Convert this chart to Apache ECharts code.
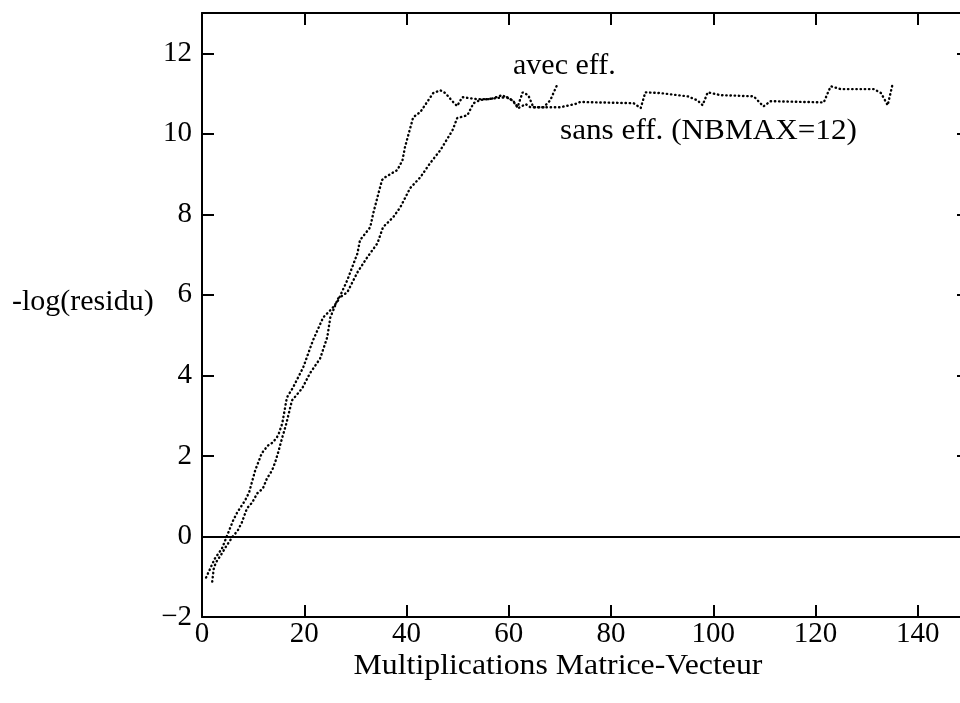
<!DOCTYPE html>
<html>
<head>
<meta charset="utf-8">
<script src="https://cdn.jsdelivr.net/npm/echarts@6/dist/echarts.min.js"></script>
<style>
html,body{margin:0;padding:0;background:#fff;}
#chart{width:960px;height:703px;}
</style>
</head>
<body>
<div id="chart"></div>
<script>
// ---- data ----
var xTicks = [0, 20, 40, 60, 80, 100, 120, 140];
var yTicks = [-2, 0, 2, 4, 6, 8, 10, 12];
var xTitle = 'Multiplications Matrice-Vecteur';
var yTitle = '-log(residu)';
var labelAvec = 'avec eff.';
var labelSans = 'sans eff. (NBMAX=12)';

var avecX = [0.8, 2.5, 3.9, 4.9, 6.1, 6.9, 8.4, 9.2, 10.4, 11.7, 12.9, 13.9, 14.9, 15.7, 16.6, 17.8, 19.8, 21.7, 23.7, 25.5, 26.6, 28.4, 30.4, 30.9, 32.9, 33.5, 34.3, 35.2, 35.8, 38.2, 39.2, 39.7, 40.5, 41.3, 42.7, 45.2, 46.6, 47.6, 49.1, 49.9, 50.9, 53.8, 56.4, 58.7, 60.7, 61.7, 62.7, 63.8, 64.8, 66.8, 68.1, 69.5];
var avecY = [-1.02, -0.55, -0.30, 0.02, 0.40, 0.60, 0.89, 1.09, 1.64, 2.07, 2.26, 2.34, 2.51, 2.81, 3.45, 3.70, 4.20, 4.87, 5.44, 5.67, 5.86, 6.36, 7.03, 7.36, 7.68, 8.03, 8.42, 8.85, 8.92, 9.10, 9.34, 9.67, 10.04, 10.41, 10.54, 11.01, 11.08, 11.01, 10.79, 10.69, 10.91, 10.86, 10.86, 10.96, 10.83, 10.66, 11.03, 10.96, 10.66, 10.66, 10.83, 11.23];

var sansX = [2.0, 2.3, 2.7, 3.9, 4.7, 5.9, 7.0, 7.8, 8.8, 9.8, 10.8, 11.9, 12.7, 13.7, 14.3, 14.9, 15.7, 16.4, 17.6, 19.6, 21.1, 23.1, 24.5, 25.1, 26.6, 28.4, 30.4, 32.3, 34.3, 35.4, 37.4, 38.8, 40.7, 42.7, 44.6, 46.6, 49.0, 49.9, 51.9, 53.1, 54.4, 57.8, 59.7, 60.9, 61.9, 63.3, 64.2, 70.1, 73.0, 74.0, 84.4, 85.8, 86.7, 89.7, 95.0, 96.9, 97.9, 98.9, 101.4, 107.9, 109.8, 111.2, 121.6, 122.6, 123.0, 124.9, 131.4, 132.8, 134.1, 135.1];
var sansY = [-1.12, -0.80, -0.65, -0.42, -0.25, -0.02, 0.15, 0.35, 0.70, 0.84, 1.07, 1.19, 1.44, 1.64, 1.84, 2.09, 2.46, 2.76, 3.38, 3.68, 4.05, 4.42, 4.95, 5.44, 5.91, 6.06, 6.56, 6.93, 7.28, 7.68, 7.93, 8.18, 8.65, 8.92, 9.27, 9.59, 10.09, 10.39, 10.46, 10.76, 10.84, 10.89, 10.91, 10.81, 10.64, 10.74, 10.66, 10.66, 10.74, 10.79, 10.76, 10.64, 11.03, 11.01, 10.93, 10.83, 10.71, 11.03, 10.96, 10.93, 10.68, 10.81, 10.78, 11.08, 11.18, 11.11, 11.11, 11.01, 10.71, 11.26];

function pairs(xs, ys) { return xs.map(function (x, i) { return [x, ys[i]]; }); }

var FONT = '"Liberation Serif", "Times New Roman", serif';
var chart = echarts.init(document.getElementById('chart'), null, {renderer: 'canvas'});

var dotted = {color: '#000', width: 2.4, type: [0.4, 3.8], cap: 'round'};
var axisLine = {show: true, onZero: false, lineStyle: {color: '#000', width: 2}};
var tickIn = {show: true, inside: true, length: 12, lineStyle: {color: '#000', width: 2}};

chart.setOption({
  animation: false,
  backgroundColor: '#fff',
  grid: {left: 202, width: 767, top: 13, height: 604, containLabel: false, outerBoundsMode: 'none'},
  xAxis: [{
    type: 'value', min: 0, max: 150, interval: 20, position: 'bottom',
    axisLine: axisLine, axisTick: tickIn, splitLine: {show: false},
    axisLabel: {
      color: '#000', fontFamily: FONT, fontSize: 29, margin: 3,
      formatter: function (v) { return xTicks.indexOf(v) >= 0 ? String(v) : ''; }
    }
  }, {
    type: 'value', min: 0, max: 150, interval: 20, position: 'top',
    axisLine: axisLine, axisTick: tickIn, splitLine: {show: false},
    axisLabel: {show: false}
  }],
  yAxis: [{
    type: 'value', min: -2, max: 13, interval: 2, position: 'left',
    axisLine: axisLine, axisTick: tickIn, splitLine: {show: false},
    axisLabel: {
      color: '#000', fontFamily: FONT, fontSize: 29, margin: 10,
      formatter: function (v) { return yTicks.indexOf(v) >= 0 ? String(v).replace('-', '\u2212') : ''; }
    }
  }, {
    type: 'value', min: -2, max: 13, interval: 2, position: 'right',
    axisLine: axisLine, axisTick: tickIn, splitLine: {show: false},
    axisLabel: {show: false}
  }],
  series: [{
    name: labelAvec, type: 'line', data: pairs(avecX, avecY),
    showSymbol: false, symbol: 'none', lineStyle: dotted,
    markLine: {
      silent: true, symbol: 'none', label: {show: false},
      lineStyle: {color: '#000', width: 2, type: 'solid'},
      data: [{yAxis: 0}]
    }
  }, {
    name: labelSans, type: 'line', data: pairs(sansX, sansY),
    showSymbol: false, symbol: 'none', lineStyle: dotted
  }],
  graphic: [
    {type: 'text', x: 12, y: 302, style: {text: yTitle, font: '30px ' + FONT, fill: '#000', align: 'left', verticalAlign: 'middle'}},
    {type: 'text', x: 513, y: 66, style: {text: labelAvec, font: '30px ' + FONT, fill: '#000', align: 'left', verticalAlign: 'middle'}},
    {type: 'text', x: 560, y: 131, scaleX: 1.04, style: {text: labelSans, font: '30px ' + FONT, fill: '#000', align: 'left', verticalAlign: 'middle'}},
    {type: 'text', x: 558, y: 666, scaleX: 1.06, style: {text: xTitle, font: '30px ' + FONT, fill: '#000', align: 'center', verticalAlign: 'middle'}}
  ]
});
</script>
</body>
</html>
